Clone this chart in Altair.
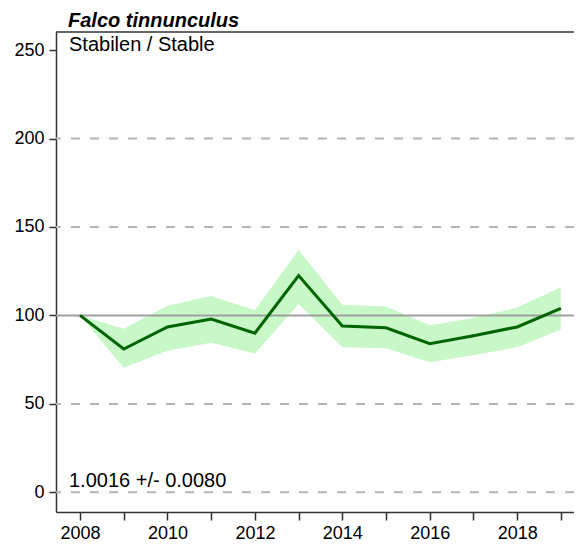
import altair as alt
import pandas as pd

years = list(range(2008, 2020))
index_vals = [100, 81, 93.5, 98, 90, 122.5, 94, 93, 84, 88.5, 93.5, 104]
lower_vals = [100, 70.5, 80, 84.5, 78.5, 106.5, 82, 81.5, 73.5, 77.5, 82, 92]
upper_vals = [100, 92.5, 105.5, 111, 103, 137, 106, 105, 94.5, 98.5, 104.5, 116]
dashed_grid = [0, 50, 150, 200]
ref_line = [100]
y_ticks = [0, 50, 100, 150, 200, 250]
title_text = "Falco tinnunculus"
status_text = "Stabilen / Stable"
trend_text = "1.0016 +/- 0.0080"

W, H = 518, 480
FONT = "Liberation Sans"

df = pd.DataFrame({"year": years, "index": index_vals, "lower": lower_vals, "upper": upper_vals})

xs = alt.Scale(domain=[2007.45, 2019.3], nice=False, zero=False)
ys = alt.Scale(domain=[-11.1, 260.2], nice=False, zero=False)

xaxis = alt.Axis(values=years, labelExpr="datum.value % 2 == 0 ? format(datum.value, 'd') : ''",
                 title=None, grid=False, tickSize=8, tickColor="#333333", tickWidth=1.5,
                 domainColor="#333333", domainWidth=1.5, labelFont=FONT, labelFontSize=18,
                 labelColor="black", labelPadding=4, labelFlush=False, labelOverlap=False)
yaxis = alt.Axis(values=y_ticks, title=None, grid=False, tickSize=7, tickColor="#333333", tickWidth=1.5,
                 domainColor="#333333", domainWidth=1.5, labelFont=FONT, labelFontSize=18,
                 labelColor="black", labelPadding=5)

base = alt.Chart(df)

band = base.mark_area(color="#c8f7c8", opacity=1).encode(
    x=alt.X("year:Q", scale=xs, axis=xaxis),
    y=alt.Y("lower:Q", scale=ys, axis=yaxis),
    y2="upper:Q",
)

grid = alt.Chart(pd.DataFrame({"g": dashed_grid})).mark_rule(
    color="#b4b4b4", strokeWidth=2, strokeDash=[9, 10]
).encode(y=alt.Y("g:Q", scale=ys))

ref = alt.Chart(pd.DataFrame({"g": ref_line})).mark_rule(
    color="#a0a0a0", strokeWidth=2
).encode(y=alt.Y("g:Q", scale=ys))

line = base.mark_line(color="#006400", strokeWidth=3).encode(
    x=alt.X("year:Q", scale=xs),
    y=alt.Y("index:Q", scale=ys),
)

top_border = alt.Chart(pd.DataFrame({"a": [0]})).mark_rule(color="#333333", strokeWidth=1.5).encode(
    x=alt.value(0), x2=alt.value(W), y=alt.value(0)
)

title = alt.Chart(pd.DataFrame({"t": [title_text]})).mark_text(
    font=FONT, fontSize=20, fontWeight="bold", fontStyle="italic", align="left",
    baseline="alphabetic", color="black"
).encode(text="t:N", x=alt.value(12), y=alt.value(-5.5))

status = alt.Chart(pd.DataFrame({"t": [status_text]})).mark_text(
    font=FONT, fontSize=20, align="left", baseline="alphabetic", color="black"
).encode(text="t:N", x=alt.value(13), y=alt.value(18.5))

trend = alt.Chart(pd.DataFrame({"t": [trend_text]})).mark_text(
    font=FONT, fontSize=20, align="left", baseline="alphabetic", color="black"
).encode(text="t:N", x=alt.value(13), y=alt.value(454.5))

chart = alt.layer(band, grid, ref, line, top_border, title, status, trend).properties(
    width=W, height=H,
    autosize=alt.AutoSizeParams(type="none"),
    padding={"left": 48, "top": 24, "right": 0, "bottom": 35},
).configure_view(stroke=None)

chart.save("out.html", embed_options={"renderer": "svg", "actions": False})
